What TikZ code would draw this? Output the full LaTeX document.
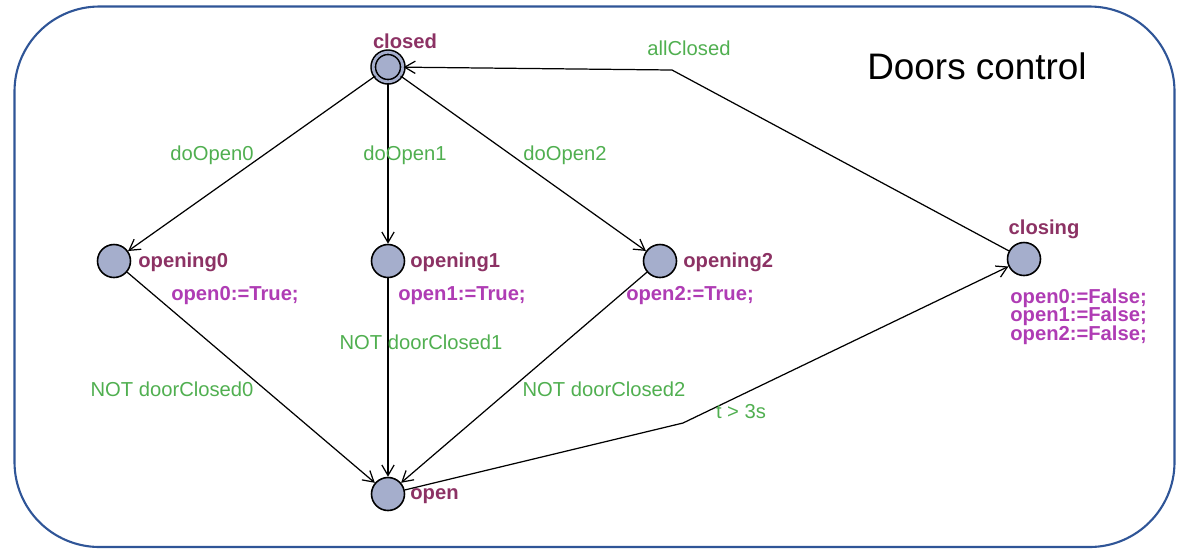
\documentclass[tikz,border=0pt]{standalone}
\usepackage{fontspec}
\setmainfont{Liberation Sans}
\usetikzlibrary{arrows.meta}

\definecolor{locfill}{RGB}{165,174,204}
\definecolor{locname}{RGB}{140,50,100}
\definecolor{updcol}{RGB}{175,60,180}
\definecolor{guardcol}{RGB}{80,175,80}
\definecolor{framecol}{RGB}{47,85,151}

\begin{document}
\begin{tikzpicture}[x=0.02cm, y=-0.02cm, >={Straight Barb[length=6pt,width=7pt]},
    loc/.style={circle, draw, fill=locfill, line width=0.9pt, minimum size=0.66cm, inner sep=0},
    lname/.style={text=locname, font=\fontsize{11.5}{13}\selectfont\bfseries, inner sep=0},
    update/.style={text=updcol, font=\fontsize{11.5}{10.8}\selectfont\bfseries, inner sep=0},
    guard/.style={text=guardcol, font=\fontsize{11.5}{13}\selectfont, inner sep=0},
    trans/.style={->, line width=0.7pt}]
    \useasboundingbox (0,0) rectangle (1179,549);

    % Frame
    \draw[framecol, line width=1.2pt, rounded corners=1.7cm] (14.5,6.5) rectangle (1174.5,547);
    \node[font=\fontsize{21}{25}\selectfont] (title) at (977,66) {Doors control};

    % Locations
    \node[loc, double=locfill, double distance=1.6pt, minimum size=0.59cm] (closed) at (388,67) {};
    \node[loc] (opening0) at (114,261) {};
    \node[loc] (opening1) at (388,261) {};
    \node[loc] (opening2) at (660,261) {};
    \node[loc] (closing) at (1024,259) {};
    \node[loc] (open) at (388,494) {};

    % Location names
    \node[lname] (closedname) at (405,41) {closed};
    \node[lname, anchor=west] (opening0name) at (138,262) {opening0};
    \node[lname, anchor=west] (opening1name) at (410,262) {opening1};
    \node[lname, anchor=west] (opening2name) at (683,262) {opening2};
    \node[lname] (closingname) at (1044,229) {closing};
    \node[lname, anchor=west] (openname) at (410,496) {open};

    % Updates
    \node[update] (upd0) at (235,296) {open0:=True;};
    \node[update] (upd1) at (462,296) {open1:=True;};
    \node[update] (upd2) at (690,296) {open2:=True;};
    \node[update, align=left, anchor=north west] (updclose) at (1010,288)
        {open0:=False;\\open1:=False;\\open2:=False;};

    % Transitions
    \draw[trans] (closed) -- (opening0);
    \draw[trans] (closed) -- (opening1);
    \draw[trans] (closed) -- (opening2);
    \draw[trans] (opening0) -- (open);
    \draw[trans] (opening1) -- (open);
    \draw[trans] (opening2) -- (open);
    \coordinate (kneeA) at (672,70);
    \draw[trans] (closing) -- (kneeA) -- (closed);
    \coordinate (kneeB) at (683,423);
    \draw[trans] (open) -- (kneeB) -- (closing);

    % Guards and syncs
    \node[guard] (g0) at (212,155) {doOpen0};
    \node[guard] (g1) at (405,155) {doOpen1};
    \node[guard] (g2) at (565,155) {doOpen2};
    \node[guard] (gall) at (689,48) {allClosed};
    \node[guard] (gnot0) at (172,389) {NOT doorClosed0};
    \node[guard] (gnot1) at (421,342) {NOT doorClosed1};
    \node[guard] (gnot2) at (604,389) {NOT doorClosed2};
    \node[guard] (gtime) at (741,412) {t > 3s};
\end{tikzpicture}
\end{document}
